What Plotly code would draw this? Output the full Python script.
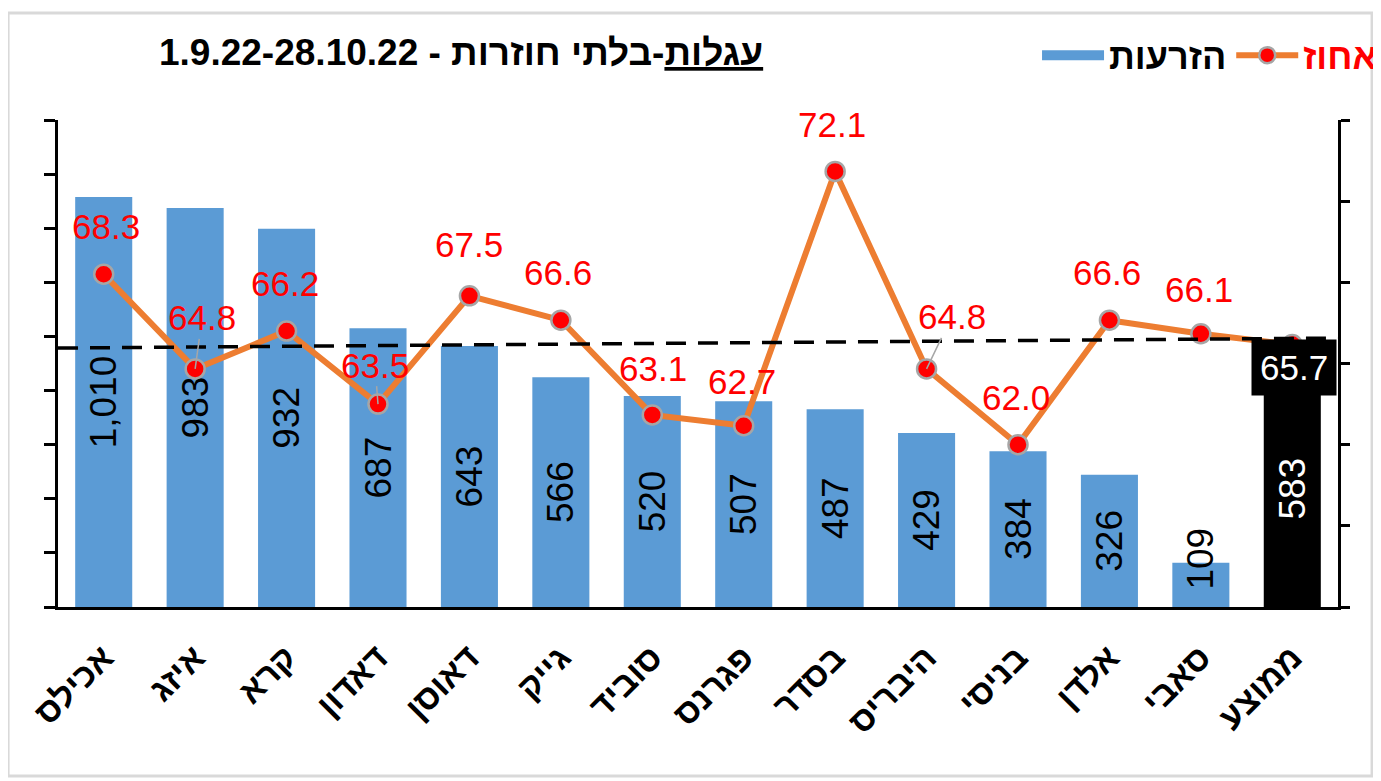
import plotly.graph_objects as go

# ---- data ----
categories = ["אכילס", "איזג", "קרא", "דאדון", "דאוסן", "גייק", "סוביד",
              "פגרנס", "בסדר", "היבריס", "בניסי", "אלדן", "סאבי", "ממוצע"]
seedings = [1010, 983, 932, 687, 643, 566, 520, 507, 487, 429, 384, 326, 109, 583]
percent = [68.3, 64.8, 66.2, 63.5, 67.5, 66.6, 63.1, 62.7, 72.1, 64.8, 62.0, 66.6, 66.1, 65.7]
avg_line = [65.57, 65.94]          # dashed reference line (left end, right end)

title_dates = "1.9.22-28.10.22"
title_word = "עגלות"
title_rest = "-בלתי חוזרות"
bar_name = "הזרעות"
line_name = "אחוז"

# ---- styles ----
FONT = "Arial, 'Liberation Sans', 'DejaVu Sans', sans-serif"
BLUE = "#5B9BD5"
ORANGE = "#ED7D31"
RED = "#FF0000"

n = len(categories)
bar_colors = [BLUE] * (n - 1) + ["#000000"]
bar_text_colors = ["#000000"] * (n - 1) + ["#FFFFFF"]
small = [v < 200 for v in seedings]
bar_text_pos = ["none" if s else "inside" for s in small]

# label offsets (pixels) for the percentage labels, and which have leader lines
label_dx = [2, 7, -2, -3, 0, -3, 1, -2, -3, 25, -2, -2, -2]
label_dy = [-48, -51, -48, -39, -51, -48, -46, -44, -47, -52, -47, -48, -44]
leader = [False, True, False, True, False, False, False, False, False, True, False, False, False]

fig = go.Figure()

fig.add_trace(go.Bar(
    x=categories, y=seedings, name=bar_name, showlegend=False,
    marker=dict(color=bar_colors, line=dict(width=0)),
    texttemplate="%{y:,}", textposition=bar_text_pos, textangle=-90,
    insidetextanchor="middle", constraintext="none",
    textfont=dict(size=37, color=bar_text_colors, family=FONT),
    cliponaxis=False,
))

# legend entry for the bars (wide blue swatch)
fig.add_trace(go.Scatter(
    x=[None], y=[None], mode="lines", name="<b>" + bar_name + "</b>",
    line=dict(color=BLUE, width=20), showlegend=True, hoverinfo="skip",
))

fig.add_trace(go.Scatter(
    x=categories, y=percent, yaxis="y2", mode="lines+markers",
    name='<b><span style="color:#FF0000">' + line_name + '</span></b>',
    line=dict(color=ORANGE, width=6),
    marker=dict(size=19, color=RED, line=dict(color="#A6A6A6", width=2.5)),
    cliponaxis=False,
))

annotations = []
for i in range(n - 1):
    annotations.append(dict(
        x=categories[i], y=percent[i], xref="x", yref="y2",
        text=f"{percent[i]:.1f}", showarrow=True, arrowhead=0,
        arrowwidth=1.5, standoff=0,
        arrowcolor="#A6A6A6" if leader[i] else "rgba(0,0,0,0)",
        ax=label_dx[i], ay=label_dy[i],
        font=dict(size=35, color=RED, family=FONT),
    ))

# labels of bars too short to hold their value: straddle the bar top
for i in range(n):
    if small[i]:
        annotations.append(dict(
            x=categories[i], y=seedings[i], xref="x", yref="y",
            text=f"{seedings[i]:,}", showarrow=False, textangle=-90, yshift=4,
            font=dict(size=37, color="#000000", family=FONT),
        ))

# average label in black box
annotations.append(dict(
    x=categories[-1], y=percent[-1], xref="x", yref="y2",
    text=f"{percent[-1]:.1f}", showarrow=False, yshift=-23, xshift=2,
    bgcolor="#000000", borderpad=8,
    font=dict(size=35, color="#FFFFFF", family=FONT),
))

# title
annotations.append(dict(
    x=0.315, y=1.1396, xref="paper", yref="paper", xanchor="center", yanchor="middle",
    text="<b>" + title_dates + ' - <span style="text-decoration:underline">' + title_word
         + "</span>" + title_rest + "</b>",
    showarrow=False, font=dict(size=37, color="#000000", family=FONT),
))

shapes = [
    dict(type="line", xref="paper", yref="y2", x0=0, x1=1,
         y0=avg_line[0], y1=avg_line[1],
         line=dict(color="#000000", width=3.5, dash="20px,12px"), layer="above"),
    dict(type="rect", xref="paper", yref="paper", x0=-0.039, x1=1.0266,
         y0=-0.347, y1=1.2197, line=dict(color="#D9D9D9", width=3), layer="below"),
]

fig.update_layout(
    width=1373, height=773,
    margin=dict(l=50, r=43, t=112, b=174, autoexpand=False),
    paper_bgcolor="#FFFFFF", plot_bgcolor="#FFFFFF",
    font=dict(family=FONT, color="#000000"),
    bargap=0.376,
    showlegend=True,
    legend=dict(orientation="h", x=1.0344, xanchor="right", y=1.133, yanchor="middle",
                font=dict(size=36, family=FONT, color="#000000"),
                bgcolor="rgba(0,0,0,0)", traceorder="normal", itemwidth=62),
    xaxis=dict(type="category", range=[-0.5, n - 0.5], tickangle=-45,
               tickfont=dict(size=34, family=FONT, color="#000000", weight="bold"),
               ticklabelstandoff=14,
               showline=True, linecolor="#000000", linewidth=3, ticks="",
               showgrid=False, zeroline=False, automargin=False),
    yaxis=dict(range=[0, 1200], tick0=0, dtick=1200 / 9, showticklabels=False,
               ticks="outside", ticklen=11, tickwidth=3, tickcolor="#000000",
               showline=True, linecolor="#000000", linewidth=3,
               showgrid=False, zeroline=False, automargin=False),
    yaxis2=dict(overlaying="y", side="right", range=[56, 74], tick0=56, dtick=3,
                showticklabels=False, ticks="outside", ticklen=9, tickwidth=3,
                tickcolor="#000000", showline=True, linecolor="#000000", linewidth=3,
                showgrid=False, zeroline=False, automargin=False),
    annotations=annotations,
    shapes=shapes,
)

fig.write_html("out.html")
